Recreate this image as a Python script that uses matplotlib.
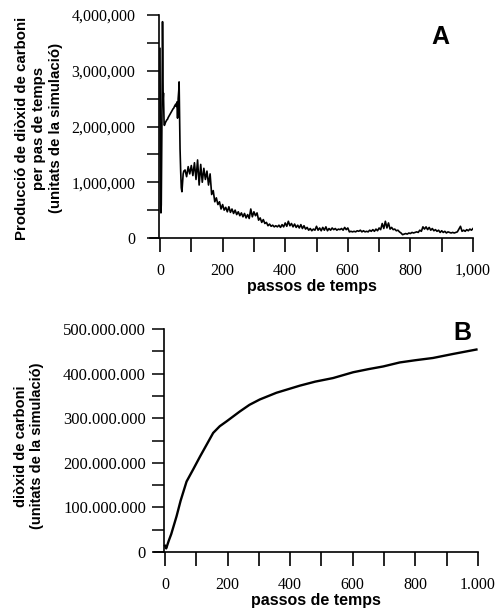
import numpy as np
import matplotlib
matplotlib.use("Agg")
import matplotlib.pyplot as plt
from matplotlib.ticker import MultipleLocator, FuncFormatter

# Panel A: producció de CO2 per pas de temps (milions, llegit de la figura)
t_a = [0, 1, 2, 3, 4, 5, 6, 7, 8, 9, 10, 11, 12, 13, 14, 16, 18, 20, 22, 24, 26, 28, 30,
       32, 34, 36, 38, 40, 42, 44, 46, 48, 50, 52, 54, 56, 58, 60, 61, 62, 63, 64, 66, 68,
       70, 72, 74, 76,
       80, 85, 90, 95, 100, 105, 110, 115, 120, 125, 130, 135, 140, 145, 150, 155, 160,
       165, 170, 175, 180, 185, 190, 195, 200, 205, 210, 215, 220, 225, 230, 235, 240,
       245, 250, 255, 260, 265, 270, 275, 280, 285, 290, 295, 300, 305, 310, 315, 320,
       325, 330, 335, 340, 345, 350, 355, 360, 365, 370, 375, 380, 385, 390, 395, 400,
       405, 410, 415, 420, 425, 430, 435, 440, 445, 450, 455, 460, 465, 470, 475, 480,
       485, 490, 495, 500, 505, 510, 515, 520, 525, 530, 535, 540, 545, 550, 555, 560,
       565, 570, 575, 580, 585, 590, 595, 600, 605, 610, 615, 620, 625, 630, 635, 640,
       645, 650, 655, 660, 665, 670, 675, 680, 685, 690, 695, 700, 705, 710, 715, 720,
       725, 730, 735, 740, 745, 750, 755, 760, 765, 770, 775, 780, 785, 790, 795, 800,
       805, 810, 815, 820, 825, 830, 835, 840, 845, 850, 855, 860, 865, 870, 875, 880,
       885, 890, 895, 900, 905, 910, 915, 920, 925, 930, 935, 940, 945, 950, 955, 960,
       965, 970, 975, 980, 985, 990, 995, 1000]
co2_a = [3.4, 1.6, 0.5, 0.45, 0.6, 1.2, 2.0, 3.0, 3.88, 3.3, 2.5, 2.6, 2.3, 2.05, 2.02, 2.05,
         2.08, 2.1, 2.12, 2.13, 2.16, 2.18, 2.2, 2.22, 2.24, 2.26, 2.28, 2.3, 2.32, 2.33,
         2.36, 2.38, 2.4, 2.36, 2.44, 2.15, 2.5, 2.65, 2.8, 2.4, 2.0, 1.6, 1.2, 0.9, 0.83,
         1.0, 1.15, 1.2,
         1.22, 1.1, 1.28, 1.15, 1.3, 1.12, 1.35, 1.05, 1.4, 0.95, 1.32, 1.0, 1.25, 1.05,
         1.2, 0.95, 1.15, 0.78, 0.85, 0.65, 0.72, 0.6, 0.65, 0.52, 0.6, 0.5, 0.55, 0.47,
         0.56, 0.46, 0.52, 0.44, 0.5, 0.42, 0.47, 0.4, 0.45, 0.38, 0.44, 0.36, 0.42, 0.35,
         0.52, 0.38, 0.47, 0.4, 0.45, 0.32, 0.36, 0.28, 0.33, 0.26, 0.28, 0.22, 0.25, 0.21,
         0.23, 0.2, 0.22, 0.2, 0.23, 0.19, 0.24, 0.2, 0.27, 0.21, 0.3, 0.22, 0.26, 0.2,
         0.25, 0.19, 0.23, 0.18, 0.24, 0.17, 0.22, 0.16, 0.19, 0.14, 0.17, 0.13, 0.16, 0.14,
         0.21, 0.14, 0.18, 0.13, 0.19, 0.14, 0.2, 0.13, 0.17, 0.14, 0.18, 0.15, 0.17, 0.14,
         0.16, 0.15, 0.17, 0.14, 0.19, 0.15, 0.18, 0.11, 0.12, 0.11, 0.12, 0.11, 0.13, 0.12,
         0.14, 0.11, 0.13, 0.11, 0.12, 0.11, 0.14, 0.12, 0.15, 0.12, 0.16, 0.13, 0.18, 0.15,
         0.26, 0.17, 0.3, 0.18, 0.27, 0.16, 0.19, 0.15, 0.16, 0.13, 0.14, 0.11, 0.09, 0.06,
         0.07, 0.08, 0.07, 0.09, 0.08, 0.1, 0.09, 0.1, 0.11, 0.1, 0.14, 0.12, 0.2, 0.16,
         0.2, 0.15, 0.19, 0.14, 0.17, 0.13, 0.15, 0.12, 0.14, 0.1, 0.13, 0.1, 0.12, 0.09,
         0.11, 0.1, 0.09, 0.1, 0.09, 0.1, 0.11, 0.16, 0.21, 0.12, 0.14, 0.12, 0.15, 0.13,
         0.16, 0.14, 0.17]

# Panel B: CO2 acumulat (milions)
t_b = [0, 4, 12, 20, 37, 50, 69, 90, 112, 135, 154, 175, 197, 239, 270, 303, 356, 431,
       480, 537, 601, 650, 697, 750, 800, 856, 920, 995]
co2_b = [14, 8, 25, 40, 80, 115, 158, 185, 214, 243, 267, 282, 293, 315, 330, 342, 357,
         373, 382, 390, 403, 410, 416, 425, 430, 435, 444, 454]

sans = ["Liberation Sans", "DejaVu Sans"]
serif = ["Liberation Serif", "DejaVu Serif"]

fig = plt.figure(figsize=(5.01, 6.10), dpi=100)
W, H = 501, 610


def make_axes(left, right, top, bottom):
    return fig.add_axes([left / W, (H - bottom) / H, (right - left) / W, (bottom - top) / H])


def style(ax, xmin, ymax, ystep, sep, ypad, ysize, xlabpad):
    ax.set_xlim(xmin, 1000)
    ax.set_ylim(0, ymax)
    ax.spines["top"].set_visible(False)
    ax.spines["right"].set_visible(False)
    ax.spines["left"].set_position(("data", -3))
    for s in ("left", "bottom"):
        ax.spines[s].set_linewidth(1.2)
    ax.xaxis.set_major_locator(MultipleLocator(200))
    ax.xaxis.set_minor_locator(MultipleLocator(100))
    ax.yaxis.set_major_locator(MultipleLocator(ystep))
    ax.yaxis.set_minor_locator(MultipleLocator(ystep / 2))
    ax.tick_params(axis="x", which="both", direction="out", length=10, width=1.2)
    ax.tick_params(axis="x", which="major", pad=8)
    ax.tick_params(axis="y", which="both", direction="out", length=9, width=1.1, pad=ypad)
    ax.xaxis.set_major_formatter(FuncFormatter(lambda v, p: f"{int(v):,}".replace(",", sep)))
    ax.yaxis.set_major_formatter(FuncFormatter(lambda v, p: f"{int(v):,}".replace(",", sep)))
    for lab in ax.get_xticklabels():
        lab.set_family(serif)
        lab.set_fontsize(11.5)
    for lab in ax.get_yticklabels():
        lab.set_family(serif)
        lab.set_fontsize(ysize)
    ax.set_xlabel("passos de temps", family=sans, fontweight="bold", fontsize=11.5,
                  labelpad=xlabpad)


# A
axA = make_axes(150, 473, 15, 238)
axA.plot(t_a, np.array(co2_a) * 1e6, color="black", lw=1.2)
style(axA, -32, 4e6, 1e6, ",", 8, 11.5, 0)
fig.text(440 / W, (H - 37) / H, "A", family=sans, fontweight="bold", fontsize=18,
         ha="center", va="center")
fig.text(39 / W, (H - 128) / H,
         "Producció de diòxid de carboni\nper pas de temps\n(unitats de la simulació)",
         rotation=90, ha="center", va="center", family=sans, fontweight="bold",
         fontsize=10.8, linespacing=1.3)

# B
axB = make_axes(154, 478, 329, 552)
axB.plot(t_b, np.array(co2_b) * 1e6, color="black", lw=1.7)
style(axB, -35, 5e8, 1e8, ".", 4, 12, 0)
fig.text(462 / W, (H - 333) / H, "B", family=sans, fontweight="bold", fontsize=18,
         ha="center", va="center")
fig.text(29 / W, (H - 446) / H,
         "diòxid de carboni\n(unitats de la simulació)",
         rotation=90, ha="center", va="center", family=sans, fontweight="bold",
         fontsize=10.5, linespacing=1.25)

fig.savefig("out.png", dpi=100)
